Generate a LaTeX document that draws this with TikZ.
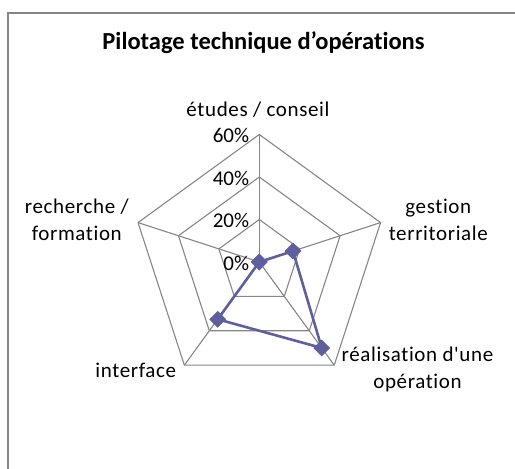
\documentclass[tikz,border=0pt]{standalone}
\usepackage{fontspec}
\newfontfamily\calibri{Carlito}[Ligatures=NoCommon]
\newfontfamily\calibrisp{Carlito}[Ligatures=NoCommon, LetterSpace=3]
\usetikzlibrary{shapes.geometric}
\definecolor{serie}{RGB}{95,95,158}
\definecolor{grille}{RGB}{134,134,134}
\begin{document}
\begin{tikzpicture}[x=1pt, y=1pt,
		grid/.style = {draw=grille, line width=1.1pt},
		point/.style = {diamond, fill=serie, inner sep=0pt, minimum size=17pt},
		axe/.style = {font=\calibrisp\fontsize{21}{26.7}\selectfont, align=center},
		pct/.style = {font=\calibri\fontsize{21}{24}\selectfont, anchor=east, inner sep=0pt}]
	\useasboundingbox (-259.3, -207) rectangle (255.7, 262);
	\draw[grille, line width=2pt] (-251, -220) -- (-251, 249.3) -- (270, 249.3);
	\node[font=\calibri\fontsize{24.5}{28}\selectfont\bfseries] (titre) at (4.2, 219.3) {Pilotage technique d’opérations};
	\foreach \r in {42.5, 85, 127.5}
		\draw[grid] (90:\r) -- (162:\r) -- (234:\r) -- (306:\r) -- (18:\r) -- cycle;
	\foreach \a in {18, 90, 162, 234, 306}
		\draw[grid] (0, 0) -- (\a:127.5);
	\foreach \r/\t in {0/0\%, 42.5/20\%, 85/40\%, 127.5/60\%}
		\node[pct] at (-10, \r - 1) {\t};
	\node[axe] (etudes) at (-1.3, 152) {études / conseil};
	\node[axe] (gestion) at (179, 42) {gestion\\territoriale};
	\node[axe] (realisation) at (158.2, -107.7) {réalisation d'une\\opération};
	\node[axe] (interface) at (-123.5, -108.7) {interface};
	\node[axe] (recherche) at (-182.5, 42) {recherche /\\formation};
	\coordinate (p1) at (90:0);
	\coordinate (p2) at (18:35.4);
	\coordinate (p3) at (306:106.25);
	\coordinate (p4) at (234:70.8);
	\coordinate (p5) at (162:0);
	\draw[serie, line width=2.6pt, line join=round] (p1) -- (p2) -- (p3) -- (p4) -- (p5) -- cycle;
	\foreach \i in {1,...,5}
		\node[point] (m\i) at (p\i) {};
\end{tikzpicture}
\end{document}
